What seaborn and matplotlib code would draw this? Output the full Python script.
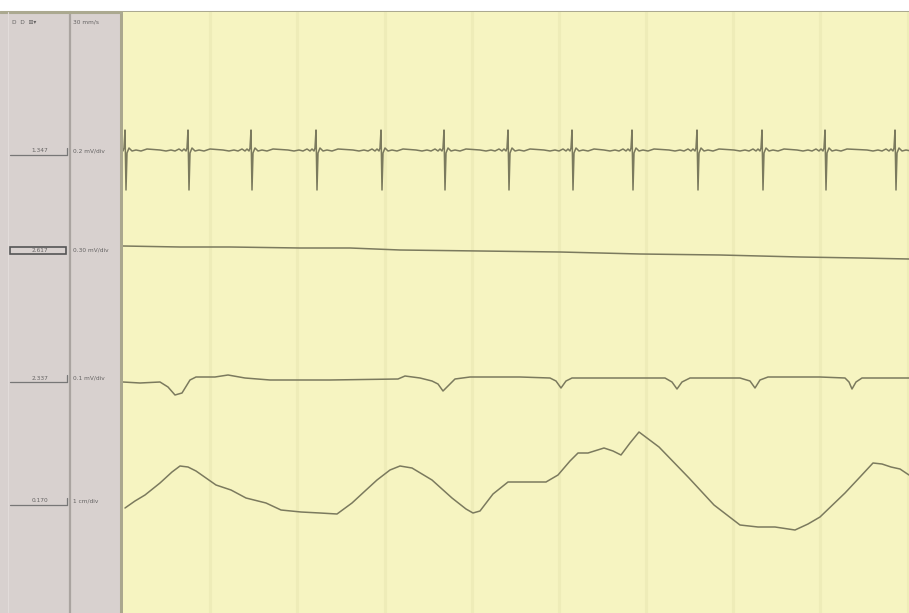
import matplotlib
matplotlib.use("Agg")
import matplotlib.pyplot as plt
import matplotlib.patches as mpatches
import pandas as pd
import seaborn as sns

# screen-recorder style: 87.3 px per second, rows measured from the top
PX_PER_S = 87.3
X0 = 123

# ECG channel: beat positions and one beat shape (offset px, deflection px)
ecg_beats = [125, 188, 251, 316, 381, 444, 508, 572, 632, 697, 762, 825, 895]
ecg_base = 150
beat_dx = [-28, -22, -17, -13, -9, -6, -4, -2, -1, 0, 1, 2, 4, 7, 11, 16, 22]
beat_dy = [0, 1, 0, 1, -1, 1, -1, 1, -2, -20, 40, 3, -2, 1, 0, 1, -1]

# channel 2: slow drift
ch2_x = [123, 180, 230, 300, 350, 400, 480, 560, 640, 720, 800, 860, 909]
ch2_y = [246, 247, 247, 248, 248, 250, 251, 252, 254, 255, 257, 258, 259]

# channel 3: baseline with small dips
ch3_x = [123, 140, 160, 168, 175, 182, 190, 196, 215, 228, 245, 270, 330, 398,
         405, 420, 432, 438, 443, 448, 455, 470, 520, 550, 556, 561, 566, 572,
         620, 665, 672, 677, 682, 690, 740, 750, 755, 760, 768, 820, 845, 849,
         852, 856, 862, 909]
ch3_y = [382, 383, 382, 387, 395, 393, 380, 377, 377, 375, 378, 380, 380, 379,
         376, 378, 381, 384, 391, 386, 379, 377, 377, 378, 381, 388, 381, 378,
         378, 378, 382, 389, 382, 378, 378, 381, 388, 380, 377, 377, 378, 382,
         389, 382, 378, 378]

# channel 4: slow wave
ch4_x = [125, 135, 145, 160, 172, 180, 188, 196, 216, 231, 246, 266, 281, 301,
         320, 337, 352, 365, 377, 390, 400, 412, 432, 452, 466, 473, 480, 493,
         508, 523, 546, 558, 570, 578, 588, 604, 613, 621, 630, 639, 659, 689,
         714, 740, 758, 775, 795, 808, 820, 845, 860, 873, 882, 891, 900, 909]
ch4_y = [508, 501, 495, 483, 472, 466, 467, 471, 485, 490, 498, 503, 510, 512,
         513, 514, 503, 491, 480, 470, 466, 468, 480, 498, 509, 513, 511, 494,
         482, 482, 482, 475, 461, 453, 453, 448, 451, 455, 443, 432, 447, 478,
         505, 525, 527, 527, 530, 524, 517, 493, 477, 463, 464, 467, 469, 475]

value_labels = ["1.347", "2.617", "2.337", "0.170"]
scale_labels = ["0.2 mV/div", "0.30 mV/div", "0.1 mV/div", "1 cm/div"]
label_rows = [152, 251, 379, 502]
speed_label = "30 mm/s"

ecg_x, ecg_y = [], []
for b in ecg_beats:
    for dx, dy in zip(beat_dx, beat_dy):
        ecg_x.append(b + dx)
        ecg_y.append(ecg_base + dy)

traces = []
for name, xs, ys in [("ecg", ecg_x, ecg_y), ("ch2", ch2_x, ch2_y),
                     ("ch3", ch3_x, ch3_y), ("ch4", ch4_x, ch4_y)]:
    traces.append(pd.DataFrame({"t": [(x - X0) / PX_PER_S for x in xs],
                                "row": ys, "ch": name}))
df = pd.concat(traces, ignore_index=True)

sns.set_style("white")
fig = plt.figure(figsize=(9.09, 6.13), dpi=100)
fig.patch.set_facecolor("white")

# panel chrome in pixel coordinates
bg = fig.add_axes([0, 0, 1, 1])
bg.set_xlim(0, 909)
bg.set_ylim(613, 0)
bg.axis("off")
bg.add_patch(mpatches.Rectangle((0, 12), 123, 601, color="#d8d1cf", zorder=0))
bg.plot([70, 70], [12, 613], color="#aaa4a0", lw=1.6)
bg.plot([121, 121], [12, 613], color="#aaa78e", lw=2.2)
bg.plot([0, 909], [12, 12], color="#aba990", lw=2.2)
bg.plot([8, 8], [12, 613], color="#e2dcda", lw=0.8)

txt_kw = dict(fontsize=4.2, color="#666464", va="center", family="DejaVu Sans")
bg.text(12, 22, "D  D  ⊞▾", **txt_kw)
bg.text(73, 22, speed_label, **txt_kw)
for i, (v, s, r) in enumerate(zip(value_labels, scale_labels, label_rows)):
    bg.text(48, r - 1, v, ha="right", **txt_kw)
    bg.text(73, r - 1, s, **txt_kw)
    if i == 1:
        bg.add_patch(mpatches.Rectangle((10, r - 4), 56, 7, fill=False,
                                        ec="#555555", lw=1.2))
    else:
        bg.plot([10, 67], [r + 3, r + 3], color="#777777", lw=0.9)
        bg.plot([67, 67], [r - 4, r + 3], color="#777777", lw=0.9)

ax = fig.add_axes([123 / 909, 0, 786 / 909, 601 / 613])
ax.set_facecolor("#f6f4c1")
for t in range(1, 10):
    ax.axvline(t * 0.9985, color="#eeecb8", lw=2.2, zorder=0)

sns.lineplot(data=df, x="t", y="row", units="ch", estimator=None, sort=False,
             color="#7b7a5e", lw=1.1, ax=ax,
             solid_joinstyle="round", solid_capstyle="round")

ax.set_xlim(0, 786 / PX_PER_S)
ax.set_ylim(613, 12)
ax.set_xticks([])
ax.set_yticks([])
ax.set_xlabel("")
ax.set_ylabel("")
for sp in ax.spines.values():
    sp.set_visible(False)

fig.savefig("out.png", dpi=100)
